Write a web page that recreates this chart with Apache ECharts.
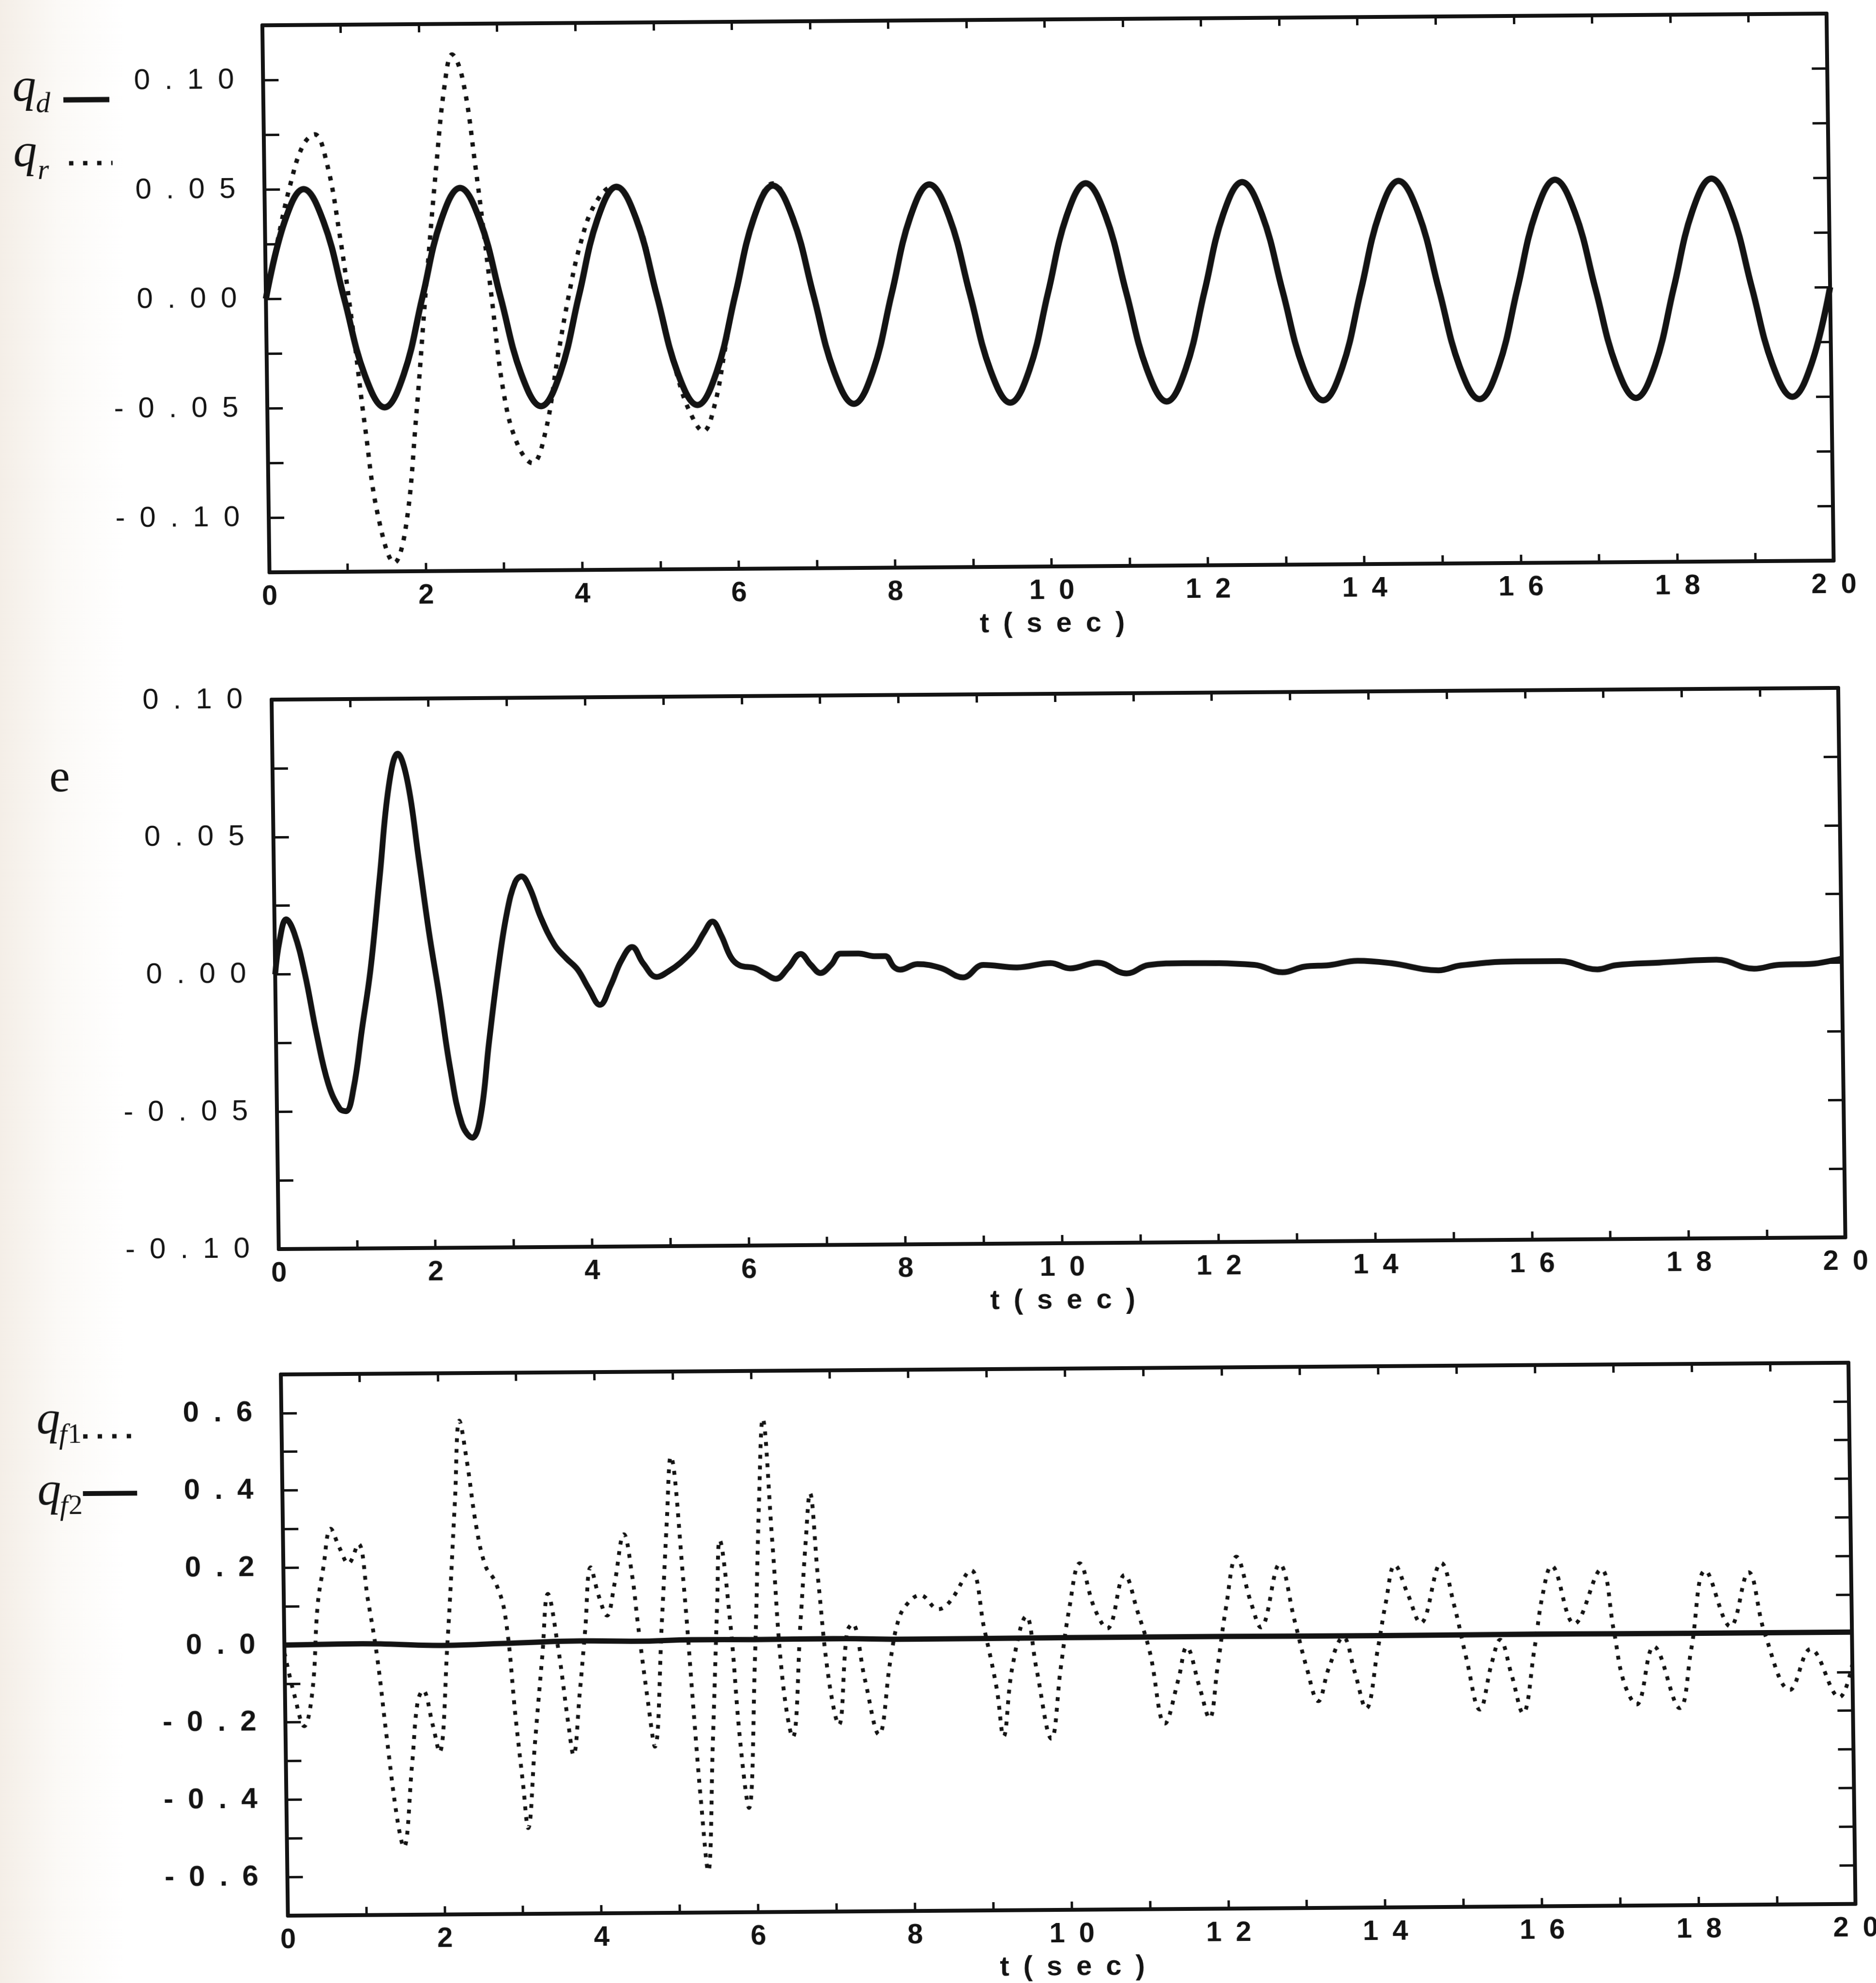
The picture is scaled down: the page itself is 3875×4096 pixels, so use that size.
<!DOCTYPE html>
<html>
<head>
<meta charset="utf-8">
<script src="https://cdn.jsdelivr.net/npm/echarts@6/dist/echarts.min.js"></script>
<style>
html, body { margin: 0; padding: 0; overflow: hidden; }
body { background: linear-gradient(to right, #f4eee7 0px, #fbf9f6 120px, #ffffff 260px); }
/* the scan is slightly skewed, so the whole sheet is tilted the same way */
#chart { width: 3875px; height: 4096px; transform-origin: 50% 50%; transform: matrix(1, -0.0075, 0.013, 1, 0, 0); }
</style>
</head>
<body>
<div id="chart"></div>
<script>
const ink = '#131313';
const SP = '\u2002';
const spaced = s => s.split('').join(SP);

// tick labels
const xLab = [0, 2, 4, 6, 8, 10, 12, 14, 16, 18, 20];
const yLab1 = [-0.10, -0.05, 0, 0.05, 0.10];
const yLab2 = [-0.10, -0.05, 0, 0.05, 0.10];
const yLab3 = [-0.6, -0.4, -0.2, 0, 0.2, 0.4, 0.6];

// panel 1: q_d, one value every 0.25 s from t = 0
const qdStep = 0.25;
const qd = [
  0, 0.035, 0.05, 0.035, 0, -0.035, -0.05, -0.035,
  0, 0.035, 0.05, 0.035, 0, -0.035, -0.05, -0.035,
  0, 0.035, 0.05, 0.035, 0, -0.035, -0.05, -0.035,
  0, 0.035, 0.05, 0.035, 0, -0.035, -0.05, -0.035,
  0, 0.035, 0.05, 0.035, 0, -0.035, -0.05, -0.035,
  0, 0.035, 0.05, 0.035, 0, -0.035, -0.05, -0.035,
  0, 0.035, 0.05, 0.035, 0, -0.035, -0.05, -0.035,
  0, 0.035, 0.05, 0.035, 0, -0.035, -0.05, -0.035,
  0, 0.035, 0.05, 0.035, 0, -0.035, -0.05, -0.035,
  0, 0.035, 0.05, 0.035, 0, -0.035, -0.05, -0.035,
  0
];
// q_r where it leaves q_d (t, value); afterwards it lies on q_d
const qrHead = [
  [0, 0], [0.15, 0.025], [0.33, 0.052], [0.5, 0.07], [0.65, 0.075], [0.8, 0.062],
  [0.95, 0.03], [1.1, -0.012], [1.25, -0.06], [1.4, -0.1], [1.6, -0.121], [1.75, -0.105],
  [1.9, -0.055], [2.05, 0.005], [2.2, 0.06], [2.32, 0.097], [2.42, 0.111], [2.55, 0.1],
  [2.7, 0.06], [2.88, 0.002], [3.03, -0.045], [3.2, -0.068], [3.38, -0.076], [3.55, -0.062],
  [3.72, -0.028], [3.87, 0.0], [4.03, 0.024], [4.22, 0.042], [4.45, 0.05], [4.75, 0.036],
  [5.0, 0.0], [5.25, -0.037], [5.4, -0.053], [5.57, -0.062], [5.72, -0.05], [5.87, -0.023],
  [6.0, 0.0], [6.25, 0.036], [6.5, 0.051]
];

// panel 2: e (t, value)
const err = [
  [0, 0], [0.06, 0.012], [0.15, 0.02], [0.25, 0.015], [0.38, 0], [0.52, -0.022],
  [0.66, -0.04], [0.8, -0.049], [0.88, -0.05], [0.98, -0.042], [1.1, -0.02], [1.22, 0.002],
  [1.35, 0.035], [1.48, 0.068], [1.6, 0.08], [1.72, 0.07], [1.85, 0.042], [1.97, 0.015],
  [2.09, -0.008], [2.22, -0.035], [2.36, -0.055], [2.49, -0.06], [2.6, -0.052], [2.72, -0.025],
  [2.85, 0.002], [2.97, 0.022], [3.08, 0.033], [3.16, 0.035], [3.26, 0.031], [3.4, 0.02],
  [3.57, 0.01], [3.72, 0.005], [3.86, 0.001], [4.0, -0.006], [4.14, -0.012], [4.28, -0.005],
  [4.42, 0.004], [4.56, 0.009], [4.7, 0.003], [4.87, -0.002], [5.02, 0], [5.17, 0.003],
  [5.35, 0.008], [5.48, 0.014], [5.59, 0.018], [5.7, 0.013], [5.82, 0.005], [5.93, 0.002],
  [6.12, 0.001], [6.25, -0.001], [6.39, -0.003], [6.55, 0.001], [6.71, 0.006], [6.84, 0.002],
  [6.96, -0.001], [7.1, 0.002], [7.22, 0.006], [7.45, 0.006], [7.65, 0.005], [7.79, 0.005],
  [7.9, 0.001], [7.98, 0], [8.2, 0.002], [8.5, 0.0005], [8.78, -0.003], [9.04, 0.0015],
  [9.47, 0.0005], [9.9, 0.002], [10.15, 0], [10.5, 0.002], [10.87, -0.002], [11.15, 0.001],
  [11.6, 0.0016], [12.5, 0.0008], [12.86, -0.002], [13.14, 0], [13.46, 0.0005], [13.82, 0.002],
  [14.25, 0.001], [14.85, -0.0017], [15.13, 0], [15.84, 0.0013], [16.4, 0.0013], [16.88, -0.0018],
  [17.12, -0.0003], [17.67, 0.0005], [18.4, 0.0014], [18.88, -0.002], [19.2, -0.0006], [19.6, -0.0004],
  [19.92, 0.001], [20, 0.0015]
];

// panel 3: q_f1 and q_f2 (t, value)
const qf1 = [
  [0, -0.02], [0.12, -0.13], [0.24, -0.21], [0.35, -0.12], [0.43, 0.1], [0.51, 0.2],
  [0.61, 0.3], [0.72, 0.25], [0.83, 0.21], [0.96, 0.26], [1.07, 0.12], [1.18, -0.03],
  [1.29, -0.24], [1.41, -0.45], [1.49, -0.525], [1.61, -0.31], [1.69, -0.15], [1.76, -0.12],
  [1.88, -0.21], [1.96, -0.28], [2.08, 0], [2.2, 0.37], [2.27, 0.577], [2.36, 0.47],
  [2.47, 0.3], [2.58, 0.2], [2.7, 0.16], [2.82, 0.075], [2.94, -0.196], [3.02, -0.36],
  [3.08, -0.478], [3.18, -0.26], [3.29, -0.03], [3.37, 0.127], [3.49, -0.01], [3.61, -0.21],
  [3.67, -0.29], [3.76, -0.13], [3.84, 0.033], [3.92, 0.195], [4.02, 0.12], [4.12, 0.07],
  [4.22, 0.15], [4.35, 0.28], [4.45, 0.17], [4.51, 0.054], [4.63, -0.155], [4.71, -0.27],
  [4.82, 0.054], [4.9, 0.315], [4.96, 0.48], [5.1, 0.16], [5.22, -0.21], [5.29, -0.415],
  [5.37, -0.593], [5.45, -0.26], [5.53, 0.106], [5.57, 0.263], [5.69, 0.054], [5.8, -0.26],
  [5.9, -0.43], [6.0, -0.05], [6.08, 0.367], [6.14, 0.576], [6.24, 0.263], [6.35, -0.1],
  [6.47, -0.248], [6.59, 0.054], [6.67, 0.263], [6.73, 0.383], [6.82, 0.159], [6.94, -0.1],
  [7.06, -0.217], [7.18, 0.023], [7.25, 0.044], [7.4, -0.1], [7.57, -0.243], [7.73, -0.05],
  [7.84, 0.054], [7.96, 0.096], [8.12, 0.117], [8.35, 0.08], [8.5, 0.1], [8.77, 0.18],
  [8.93, 0.03], [9.08, -0.126], [9.16, -0.25], [9.28, -0.075], [9.47, 0.06], [9.59, -0.075],
  [9.77, -0.257], [9.9, -0.075], [10.02, 0.08], [10.16, 0.196], [10.34, 0.08], [10.5, 0.027],
  [10.73, 0.165], [10.89, 0.07], [11.04, -0.035], [11.22, -0.22], [11.4, -0.106], [11.51, -0.023],
  [11.67, -0.128], [11.79, -0.207], [11.9, -0.077], [12.02, 0.08], [12.16, 0.21], [12.34, 0.09],
  [12.46, 0.027], [12.71, 0.19], [12.89, 0.045], [13.04, -0.08], [13.18, -0.165], [13.32, -0.08],
  [13.51, 0], [13.65, -0.09], [13.79, -0.185], [13.95, -0.03], [14.06, 0.09], [14.18, 0.185],
  [14.34, 0.11], [14.5, 0.035], [14.77, 0.19], [14.93, 0.08], [15.08, -0.06], [15.24, -0.19],
  [15.4, -0.07], [15.51, -0.01], [15.65, -0.1], [15.79, -0.2], [15.95, -0.03], [16.06, 0.105],
  [16.18, 0.18], [16.46, 0.03], [16.81, 0.17], [16.96, 0.015], [17.08, -0.12], [17.24, -0.18],
  [17.47, -0.03], [17.79, -0.19], [17.95, -0.035], [18.14, 0.165], [18.45, 0.02], [18.69, 0.16],
  [18.89, 0], [19.2, -0.145], [19.47, -0.04], [19.83, -0.165], [20, -0.08]
];
const qf2 = [
  [0, 0], [1, 0.002], [2, -0.004], [2.8, 0], [3.8, 0.005], [4.5, 0.003], [5.2, 0.006],
  [6, 0.005], [7, 0.006], [8, 0.003], [10, 0.004], [12, 0.004], [14, 0.003], [16, 0.004],
  [18, 0.003], [20, 0.003]
];

const qdPts = qd.map((v, i) => [i * qdStep, v]);
const qrPts = qrHead.concat(qdPts.filter(p => p[0] > 6.5));

const grids = [
  { left: 568, top: 42, width: 3231, height: 1130 },
  { left: 569, top: 1435, width: 3236, height: 1135 },
  { left: 570, top: 2829, width: 3238, height: 1125 }
];

function pick(list, v, digits) {
  const k = list.find(a => Math.abs(a - v) < 1e-6);
  return k === undefined ? '' : spaced((Math.abs(k) < 1e-9 ? 0 : k).toFixed(digits));
}

function xAxis(g, pos) {
  const bottom = pos === 'bottom';
  return {
    type: 'value', gridIndex: g, position: pos, min: 0, max: 20, interval: 1,
    axisLine: { show: true, onZero: false, lineStyle: { color: ink, width: 8 } },
    axisTick: { show: true, inside: true, length: 17, lineStyle: { color: ink, width: 5 } },
    axisLabel: {
      show: bottom, margin: 22, color: ink, fontFamily: 'Liberation Sans', fontSize: 58, fontWeight: 'bold',
      formatter: v => xLab.indexOf(Math.round(v)) >= 0 && Math.abs(v - Math.round(v)) < 1e-6 ? spaced(String(Math.round(v))) : ''
    },
    splitLine: { show: false },
    name: bottom ? spaced('t(sec)') : '',
    nameLocation: 'middle', nameGap: 90,
    nameTextStyle: { color: ink, fontFamily: 'Liberation Sans', fontSize: 58, fontWeight: 'bold' }
  };
}

function yAxis(g, pos, min, max, step, labels, digits, bold) {
  const left = pos === 'left';
  return {
    type: 'value', gridIndex: g, position: pos, min: min, max: max, interval: step,
    axisLine: { show: true, onZero: false, lineStyle: { color: ink, width: 8 } },
    axisTick: { show: true, inside: true, length: 32, lineStyle: { color: ink, width: 5 } },
    axisLabel: {
      show: left, margin: 60, color: ink, fontFamily: 'Liberation Sans', fontSize: 60,
      fontWeight: bold ? 'bold' : 'normal',
      formatter: v => pick(labels, v, digits)
    },
    splitLine: { show: false }
  };
}

function solid(xi, data, w) {
  return { type: 'line', xAxisIndex: xi, yAxisIndex: xi, data: data, symbol: 'none', smooth: 0.4,
    lineStyle: { color: ink, width: w }, silent: true };
}
function dotted(xi, data, w, dash) {
  return { type: 'line', xAxisIndex: xi, yAxisIndex: xi, data: data, symbol: 'none', smooth: 0.4,
    lineStyle: { color: ink, width: w, type: dash, cap: 'butt' }, silent: true };
}

function txt(x, y, s, font, align) {
  return { type: 'text', x: x, y: y, silent: true,
    style: { text: s, font: font, fill: ink, textAlign: align || 'left', align: align || 'left',
      textVerticalAlign: 'middle', verticalAlign: 'middle' } };
}
function seg(x1, x2, y, w, dash) {
  return { type: 'line', silent: true, shape: { x1: x1, y1: y, x2: x2, y2: y },
    style: { stroke: ink, lineWidth: w, lineDash: dash || null } };
}

const qFont = 'italic 98px "Liberation Serif"';
const subFont = 'italic 60px "Liberation Serif"';
const subUp = '58px "Liberation Serif"';

const chart = echarts.init(document.getElementById('chart'));
chart.setOption({
  animation: false,
  backgroundColor: 'transparent',
  grid: grids,
  xAxis: [xAxis(0, 'bottom'), xAxis(0, 'top'), xAxis(1, 'bottom'), xAxis(1, 'top'), xAxis(2, 'bottom'), xAxis(2, 'top')],
  yAxis: [
    yAxis(0, 'left', -0.125, 0.125, 0.025, yLab1, 2, false), yAxis(0, 'right', -0.125, 0.125, 0.025, [], 2, false),
    yAxis(1, 'left', -0.1, 0.1, 0.025, yLab2, 2, false), yAxis(1, 'right', -0.1, 0.1, 0.025, [], 2, false),
    yAxis(2, 'left', -0.7, 0.7, 0.1, yLab3, 1, true), yAxis(2, 'right', -0.7, 0.7, 0.1, [], 1, true)
  ],
  series: [
    solid(0, qdPts, 13),
    dotted(0, qrPts, 9, [9, 15]),
    solid(2, err, 12),
    dotted(4, qf1, 8, [8, 14]),
    solid(4, qf2, 11)
  ],
  graphic: [
    txt(50, 168, 'q', qFont), txt(98, 202, 'd', subFont), seg(155, 250, 193, 11),
    txt(50, 303, 'q', qFont), txt(100, 340, 'r', subFont), seg(165, 255, 324, 9, [9, 20]),
    txt(129, 1596, 'e', '96px "Liberation Serif"', 'center'),
    txt(64, 2921, 'q', qFont), txt(110, 2952, 'f', subFont), txt(128, 2952, '1', subUp), seg(160, 270, 2954, 9, [9, 21]),
    txt(64, 3068, 'q', qFont), txt(110, 3099, 'f', subFont), txt(128, 3099, '2', subUp), seg(158, 270, 3072, 10)
  ]
});
</script>
</body>
</html>
